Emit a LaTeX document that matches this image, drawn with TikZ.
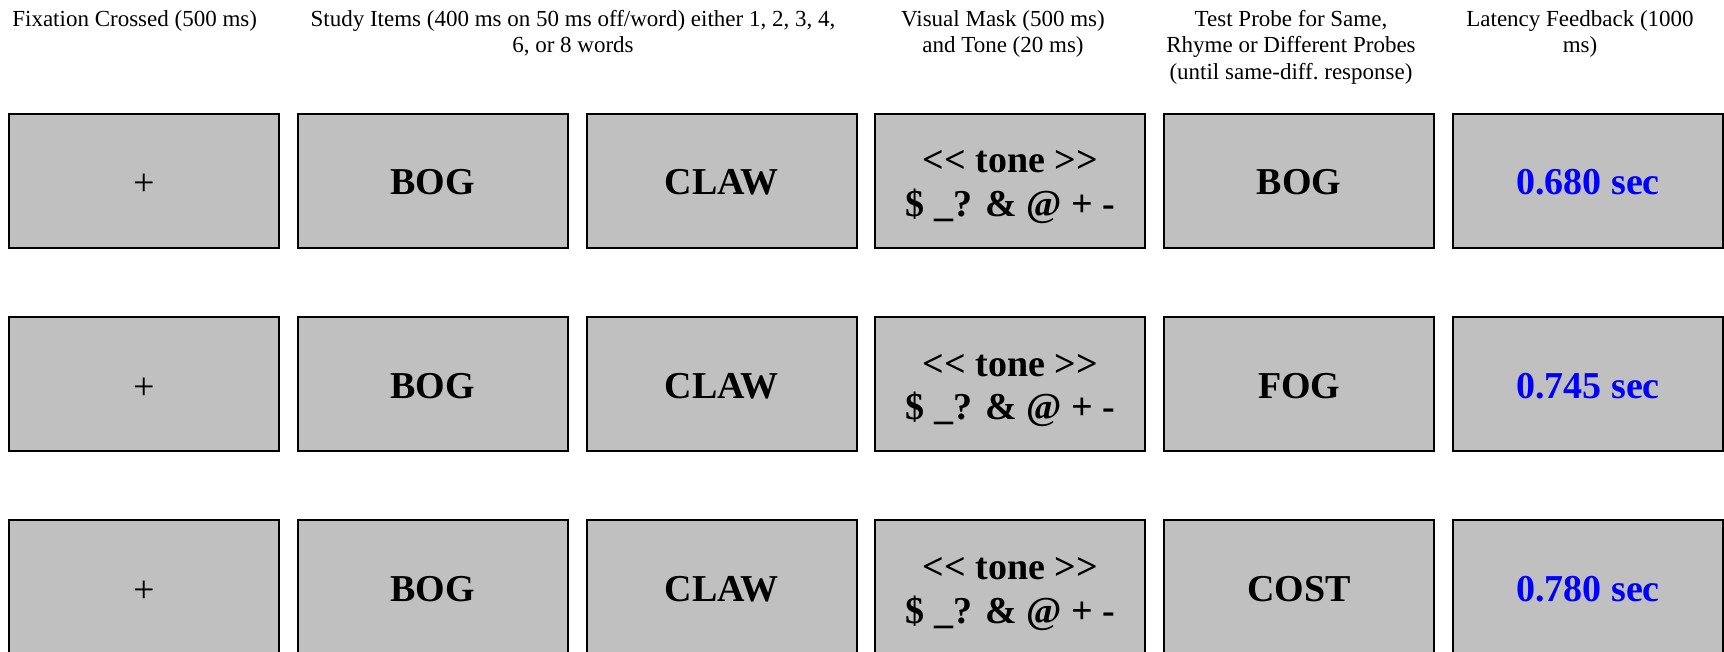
\documentclass[tikz,border=0pt]{standalone}
\usepackage{fontspec}
\newfontfamily\tnr{Liberation Serif}[Ligatures=TeXOff]
\definecolor{boxgray}{HTML}{C0C0C0}
\definecolor{fbblue}{RGB}{0,0,255}
\begin{document}
\begin{tikzpicture}[x=1pt,y=-1pt,
  trial/.style={draw=black, line width=2pt, fill=boxgray, minimum width=270pt,
    minimum height=134pt, inner sep=0pt, text=black,
    text height=28pt, text depth=0pt,
    font=\tnr\fontsize{38}{44}\selectfont\bfseries},
  crossbox/.style={trial, text height=30pt, font=\tnr\fontsize{38}{44}\selectfont},
  maskbox/.style={trial, text height=0pt, text depth=0pt},
  fbbox/.style={trial, text=fbblue},
  head/.style={anchor=base, inner sep=0pt, font=\tnr\fontsize{23}{26.3}\selectfont}]
\useasboundingbox (0,0) rectangle (1724,652);
% headings
\node[head] (h1) at (134.7,26.7) {Fixation Crossed (500 ms)};
\node[head] (h2) at (573,26.7) {\begin{tabular}[t]{@{}c@{}}Study Items (400 ms on 50 ms off/word) either 1, 2, 3, 4,\\ 6, or 8 words\end{tabular}};
\node[head] (h3) at (1003,26.7) {\begin{tabular}[t]{@{}c@{}}Visual Mask (500 ms)\\ and Tone (20 ms)\end{tabular}};
\node[head] (h4) at (1291,26.7) {\begin{tabular}[t]{@{}c@{}}Test Probe for Same,\\ Rhyme or Different Probes\\ (until same-diff.\ response)\end{tabular}};
\node[head] (h5) at (1580,26.7) {\begin{tabular}[t]{@{}c@{}}Latency Feedback (1000\\ ms)\end{tabular}};
% trial rows
\foreach \r/\y/\probe/\lat in {1/181/BOG/0.680, 2/384/FOG/0.745, 3/587/COST/0.780} {
  \node[crossbox] (fix\r) at (144,\y) {+};
  \node[trial] (studyA\r) at (432.8,\y) {BOG};
  \node[trial] (studyB\r) at (721.6,\y) {CLAW};
  \node[maskbox] (mask\r) at (1010.4,\y) {\raisebox{8pt}[0pt][0pt]{\begin{tabular}[t]{@{}c@{}}<< tone >>\\ \$ \_? \& @ + -\end{tabular}}};
  \node[trial] (probe\r) at (1299.2,\y) {\probe};
  \node[fbbox] (fb\r) at (1588,\y) {\lat\ sec};
}
\end{tikzpicture}
\end{document}
